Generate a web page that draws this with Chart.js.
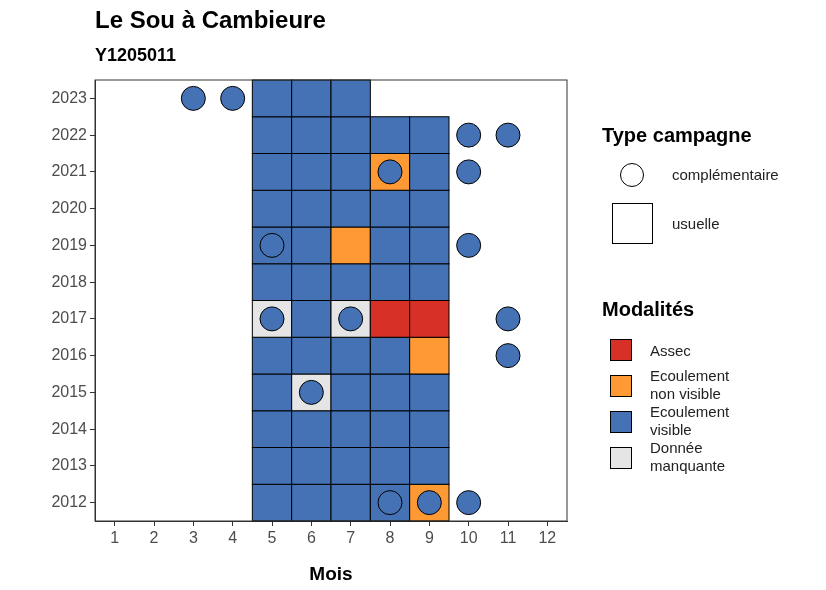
<!DOCTYPE html>
<html><head><meta charset="utf-8">
<script src="https://cdn.jsdelivr.net/npm/chart.js@4"></script>
<style>
body{margin:0;font-family:"Liberation Sans",Arial,sans-serif;}
#wrap{position:relative;width:826px;height:590px;background:#fff;}
.t{position:absolute;font-weight:bold;color:#000;}
.lg{position:absolute;font-size:16px;color:#222;}
.sw{position:absolute;border:1px solid #000;box-sizing:border-box;}
</style></head><body>
<div id="wrap">
<canvas id="c" width="826" height="590"></canvas>
<div class="t" style="left:95px;top:6px;font-size:24px">Le Sou à Cambieure</div>
<div class="t" style="left:95px;top:45px;font-size:18px">Y1205011</div>
<div class="t" style="left:602px;top:124px;font-size:20px">Type campagne</div>
<div class="sw" style="left:620px;top:163px;width:24px;height:24px;border-radius:50%"></div>
<div class="lg" style="left:672px;top:166px;font-size:15px">complémentaire</div>
<div class="sw" style="left:612px;top:203px;width:41px;height:41px"></div>
<div class="lg" style="left:672px;top:215px;font-size:15px">usuelle</div>
<div class="t" style="left:602px;top:298px;font-size:20px">Modalités</div>
<div class="sw" style="left:610px;top:339px;width:22px;height:22px;background:#D73027"></div>
<div class="lg" style="left:650px;top:342px;font-size:15px">Assec</div>
<div class="sw" style="left:610px;top:375px;width:22px;height:22px;background:#FF9933"></div>
<div class="lg" style="left:650px;top:367px;font-size:15px;line-height:18px">Ecoulement<br>non visible</div>
<div class="sw" style="left:610px;top:411px;width:22px;height:22px;background:#4472B4"></div>
<div class="lg" style="left:650px;top:403px;font-size:15px;line-height:18px">Ecoulement<br>visible</div>
<div class="sw" style="left:610px;top:447px;width:22px;height:22px;background:#E5E5E5"></div>
<div class="lg" style="left:650px;top:439px;font-size:15px;line-height:18px">Donnée<br>manquante</div>
</div>
<script>
const months = [1,2,3,4,5,6,7,8,9,10,11,12];
const years = [2012,2013,2014,2015,2016,2017,2018,2019,2020,2021,2022,2023];
const modalColors = {A:"#D73027", N:"#FF9933", V:"#4472B4", M:"#E5E5E5"};
// usual campaign: one string per year, months 5..9 (A assec, N non visible, V visible, M manquante)
const usualRows = {
  2012:"VVVVN", 2013:"VVVVV", 2014:"VVVVV", 2015:"VMVVV", 2016:"VVVVN",
  2017:"MVMAA", 2018:"VVVVV", 2019:"VVNVV", 2020:"VVVVV", 2021:"VVVNV",
  2022:"VVVVV", 2023:"VVV"
};
const compMonths = [3,4, 10,11, 8,10, 5,10, 5,7,11, 11, 6, 8,9,10];
const compYears  = [2023,2023, 2022,2022, 2021,2021, 2019,2019, 2017,2017,2017, 2016, 2015, 2012,2012,2012];

const cells = [];
Object.keys(usualRows).forEach(y => {
  [...usualRows[y]].forEach((m, i) => cells.push({x: 5 + i, y: +y, c: modalColors[m]}));
});

const cellPlugin = {
  id: "cells",
  beforeDatasetsDraw(chart) {
    const {ctx, scales: {x, y}, chartArea: a} = chart;
    ctx.save();
    cells.forEach(d => {
      const x0 = x.getPixelForValue(d.x - 0.5), x1 = x.getPixelForValue(d.x + 0.5);
      const y0 = y.getPixelForValue(d.y + 0.5), y1 = y.getPixelForValue(d.y - 0.5);
      ctx.fillStyle = d.c;
      ctx.fillRect(x0, y0, x1 - x0, y1 - y0);
      ctx.strokeStyle = "#000"; ctx.lineWidth = 1;
      ctx.strokeRect(x0, y0, x1 - x0, y1 - y0);
    });
    ctx.strokeStyle = "#333"; ctx.lineWidth = 1;
    ctx.strokeRect(a.left, a.top, a.right - a.left, a.bottom - a.top);
    ctx.restore();
  }
};

new Chart(document.getElementById("c"), {
  type: "scatter",
  data: {
    datasets: [{
      data: compMonths.map((m, i) => ({x: m, y: compYears[i]})),
      backgroundColor: "#4472B4", borderColor: "#000", borderWidth: 1,
      pointRadius: 12, pointHoverRadius: 12
    }]
  },
  options: {
    responsive: false, animation: false,
    layout: {padding: {top: 80, right: 259, left: 0, bottom: 0}},
    plugins: {legend: {display: false}, tooltip: {enabled: false}},
    scales: {
      x: {
        min: 0.5, max: 12.5,
        afterFit: s => { s.height = 69; },
        afterBuildTicks: s => { s.ticks = months.map(v => ({value: v})); },
        grid: {drawOnChartArea: false, tickLength: 5, color: "#333"},
        border: {color: "#333"},
        ticks: {color: "#4d4d4d", font: {size: 16, family: "Liberation Sans"}},
        title: {display: true, text: "Mois", color: "#000", padding: {top: 0},
                font: {size: 19, weight: "bold", family: "Liberation Sans"}}
      },
      y: {
        min: 2011.5, max: 2023.5,
        afterFit: s => { s.width = 95; },
        afterBuildTicks: s => { s.ticks = years.map(v => ({value: v})); },
        grid: {drawOnChartArea: false, tickLength: 5, color: "#333"},
        border: {color: "#333"},
        ticks: {color: "#4d4d4d", font: {size: 16, family: "Liberation Sans"}, callback: v => v}
      }
    }
  },
  plugins: [cellPlugin]
});
</script>
</body></html>
